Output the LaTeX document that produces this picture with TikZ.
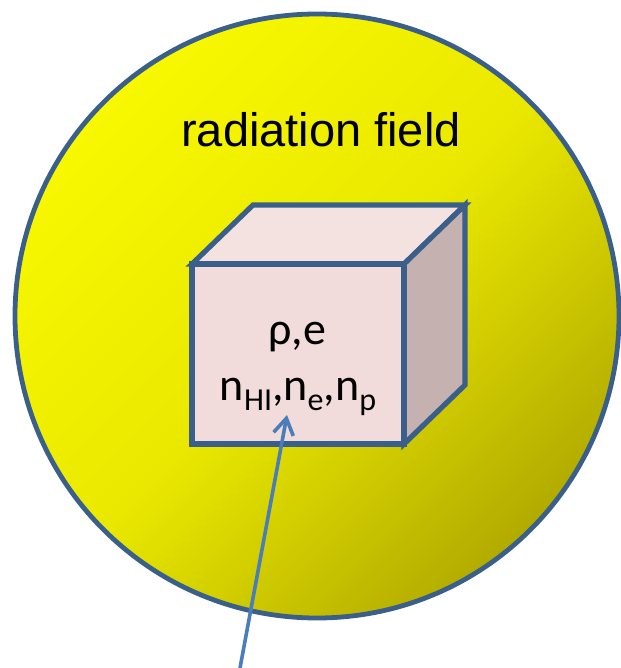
\documentclass[tikz,border=0pt]{standalone}
\usepackage{fontspec}
\setmainfont{Liberation Sans}
\newfontfamily\cubefont{Carlito}
\usetikzlibrary{arrows.meta}
\definecolor{FieldEdge}{HTML}{3A5F8B}
\definecolor{FieldTop}{HTML}{F8F800}
\definecolor{FieldMid}{HTML}{EAE800}
\definecolor{FieldBottom}{HTML}{B2AB00}
\definecolor{FrontFace}{HTML}{F2DCDB}
\definecolor{TopFace}{HTML}{F4E2E1}
\definecolor{SideFace}{HTML}{C4B1B0}
\definecolor{ArrowBlue}{HTML}{4A7EBB}
\tikzset{
  fieldcircle/.style={circle, draw=FieldEdge, line width=2.4pt, top color=FieldTop, bottom color=FieldBottom, middle color=FieldMid, shading angle=45, minimum size=302pt, inner sep=0pt},
  fieldlabel/.style={font=\fontsize{23.5}{28}\selectfont, anchor=base},
  cubeline/.style={draw=FieldEdge, line width=2.6pt, line join=miter},
  cubetext/.style={font=\cubefont\fontsize{23}{27}\selectfont, anchor=base, inner sep=0pt},
  arrow/.style={-{Straight Barb[length=8pt, width=10pt]}, line width=1.8pt, draw=ArrowBlue}
}
\newcommand{\lowsub}[1]{\raisebox{-5pt}{\fontsize{16}{16}\selectfont #1}}

\begin{document}
\begin{tikzpicture}[x=0.5pt, y=-0.5pt]
\useasboundingbox (0,0) rectangle (620,668);
\node[fieldcircle] (field) at (317,316) {};
\node[fieldlabel] (fieldname) at (321,147) {radiation field};
% cube corners
\coordinate (fa) at (192,264);
\coordinate (fb) at (404,264);
\coordinate (fc) at (404,444);
\coordinate (fd) at (192,444);
\coordinate (ba) at (253,205);
\coordinate (bb) at (465,205);
\coordinate (bc) at (465,385);
\draw[cubeline, fill=TopFace] (fa) -- (ba) -- (bb) -- (fb) -- cycle;
\draw[cubeline, fill=SideFace] (fb) -- (bb) -- (bc) -- (fc) -- cycle;
\draw[cubeline, fill=FrontFace] (fa) -- (fb) -- (fc) -- (fd) -- cycle;
\node[cubetext] (rhoe) at (297,344) {ρ,e};
\node[cubetext] (dens) at (298,400) {n\lowsub{HI},n\lowsub{e},n\lowsub{p}};
\coordinate (src) at (240,668);
\coordinate (hit) at (287,415);
\draw[arrow] (src) -- (hit);
\end{tikzpicture}
\end{document}
